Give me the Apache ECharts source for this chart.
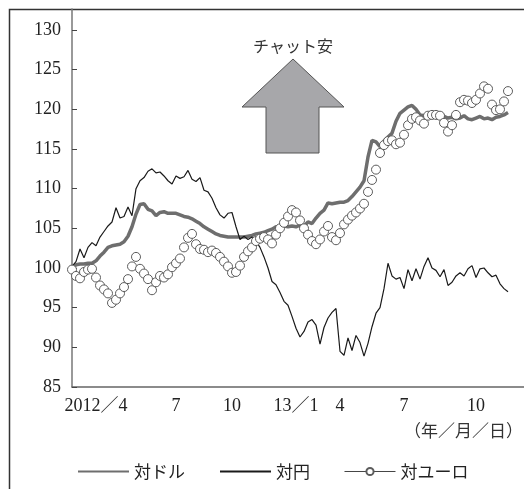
<!DOCTYPE html>
<html>
<head>
<meta charset="utf-8">
<script src="https://cdn.jsdelivr.net/npm/echarts@6/dist/echarts.min.js"></script>
<style>
  html, body { margin: 0; padding: 0; background: #fff; }
  #chart { width: 524px; height: 489px; }
</style>
</head>
<body>
<div id="chart"></div>
<script>
// Kyat exchange-rate index (start = 100), sampled at regular steps, Apr 2012 – late 2013
const usd = [
  100.0, 100.4, 100.5, 100.5, 100.6, 100.6, 100.9, 101.5, 102.0, 102.6,
  102.8, 102.9, 103.0, 103.3, 104.0, 105.2, 106.8, 108.0, 108.1, 107.4,
  107.2, 106.6, 107.0, 107.1, 106.9, 106.9, 106.9, 106.7, 106.5, 106.4,
  106.2, 105.9, 105.6, 105.2, 104.9, 104.6, 104.3, 104.1, 104.0, 103.9,
  103.9, 103.9, 103.9, 103.9, 104.0, 104.1, 104.3, 104.4, 104.5, 104.7,
  104.9, 105.2, 105.2, 105.3, 105.2, 105.3, 105.2, 105.4, 105.3, 105.8,
  105.6, 106.3, 106.9, 107.3, 108.2, 108.1, 108.2, 108.3, 108.3, 108.5,
  109.0, 109.6, 110.2, 111.0, 114.0, 116.1, 115.9, 115.3, 116.0, 116.5,
  117.0, 118.5, 119.5, 119.9, 120.3, 120.5, 120.0, 119.3, 119.2, 119.3,
  119.4, 119.2, 119.3, 119.1, 118.9, 119.0, 118.8, 118.9, 119.2, 118.8,
  118.7, 118.9, 119.1, 118.8, 118.9, 118.7, 119.0, 119.1, 119.3, 119.6
];
const jpy = [
  100.2, 100.8, 102.4, 101.3, 102.6, 103.2, 102.8, 103.9, 104.6, 105.3,
  105.8, 107.6, 106.3, 106.5, 107.7, 106.6, 110.0, 111.0, 111.4, 112.2,
  112.5, 112.0, 112.1, 111.6, 111.0, 110.6, 111.6, 111.3, 111.5, 112.3,
  111.2, 110.9, 111.4, 109.8, 109.6, 108.8, 107.6, 106.7, 106.3, 106.9,
  107.0, 105.2, 103.6, 104.0, 103.6, 103.9, 103.4, 102.6, 101.4, 100.0,
  98.3, 97.9, 96.9, 95.8, 95.3, 93.9, 92.4, 91.3, 92.0, 93.2,
  93.5, 92.8, 90.4, 92.5, 93.7, 94.4, 94.9, 89.5, 89.0, 91.2,
  89.6, 91.5, 90.6, 88.9, 90.5, 92.6, 94.3, 95.0, 97.4, 100.6,
  99.0, 98.6, 98.8, 97.4, 99.8, 98.4, 99.9, 98.6, 100.2, 101.3,
  100.0, 99.7, 98.9, 99.8, 97.8, 98.2, 99.0, 99.4, 99.0, 99.9,
  100.3, 98.8, 99.9, 100.0, 99.4, 98.9, 99.1, 98.0, 97.4, 97.0
];
const eur = [
  99.8, 99.0, 98.7, 99.5, 99.8, 99.9, 98.8, 97.8, 97.3, 96.8,
  95.6, 96.0, 96.8, 97.6, 98.6, 100.2, 101.4, 99.9, 99.3, 98.6,
  97.2, 98.2, 99.0, 98.8, 99.2, 100.1, 100.6, 101.2, 102.6, 103.8,
  104.3, 103.0, 102.4, 102.3, 102.0, 102.2, 101.9, 101.4, 100.8, 100.2,
  99.4, 99.5, 100.3, 101.4, 102.1, 102.6, 103.4, 103.7, 103.9, 103.6,
  103.1, 104.2, 105.0, 105.7, 106.5, 107.3, 107.0, 106.0, 105.0, 104.2,
  103.4, 103.0, 103.6, 104.6, 105.3, 103.9, 103.5, 104.4, 105.5, 106.1,
  106.6, 107.0, 107.5, 108.1, 109.6, 111.1, 112.4, 114.5, 115.5, 116.0,
  116.1, 115.6, 115.8, 116.8, 118.0, 118.8, 119.0, 118.6, 118.2, 119.2,
  119.3, 119.3, 119.2, 118.3, 117.2, 118.0, 119.3, 120.9, 121.2, 121.1,
  120.8, 121.2, 122.0, 122.9, 122.6, 120.6, 119.9, 120.0, 121.0, 122.3
];

// Series names
const names = ['対ドル', '対円', '対ユーロ'];

// Date labels under the time axis, keyed by sampling step
const tickText = { 6: '2012／4', 26: '7', 40: '10', 56: '13／1', 67: '4', 83: '7', 101: '10' };

// Sampling steps; the axis runs a few steps past the last observation
const steps = Array.from({ length: usd.length + 4 }, (_, i) => String(i));

const serif = "'Liberation Serif', 'Noto Sans CJK JP', serif";
const jp = "'Noto Sans CJK JP', sans-serif";

const chart = echarts.init(document.getElementById('chart'), null, { renderer: 'canvas' });

chart.setOption({
  animation: false,
  backgroundColor: '#fff',
  grid: { left: 72, right: 0, top: 9, bottom: 102, containLabel: false, outerBoundsMode: 'none' },
  xAxis: {
    type: 'category',
    data: steps,
    boundaryGap: false,
    axisLine: { lineStyle: { color: '#666', width: 1.5 } },
    axisTick: { show: false },
    axisLabel: {
      interval: (idx) => tickText[idx] !== undefined,
      formatter: (v, idx) => tickText[idx] || '',
      margin: 10,
      fontFamily: serif,
      fontSize: 18,
      color: '#222'
    },
    splitLine: { show: false }
  },
  yAxis: {
    type: 'value',
    min: 85,
    max: 132.65,
    interval: 5,
    axisLine: { show: true, lineStyle: { color: '#777', width: 1.5 } },
    axisTick: { show: true, inside: true, length: 5, lineStyle: { color: '#444', width: 1 } },
    axisLabel: {
      showMaxLabel: false,
      margin: 11,
      fontFamily: serif,
      fontSize: 18,
      color: '#222'
    },
    splitLine: { show: false }
  },
  legend: {
    left: 72,
    top: 458,
    itemWidth: 51,
    itemHeight: 9,
    itemGap: 34,
    textStyle: { fontFamily: jp, fontSize: 17, color: '#222' },
    data: [
      { name: names[0], itemStyle: { opacity: 0 } },
      { name: names[1], itemStyle: { opacity: 0 } },
      { name: names[2], lineStyle: { width: 1, color: '#444', opacity: 1 } }
    ]
  },
  series: [
    {
      name: names[0],
      type: 'line',
      data: usd,
      symbol: 'none',
      lineStyle: { color: '#6e6e6e', width: 3.5 },
      itemStyle: { color: '#6e6e6e' },
      z: 2
    },
    {
      name: names[1],
      type: 'line',
      data: jpy,
      symbol: 'none',
      lineStyle: { color: '#1a1a1a', width: 1.2 },
      itemStyle: { color: '#1a1a1a' },
      z: 3
    },
    {
      name: names[2],
      type: 'line',
      data: eur,
      symbol: 'circle',
      symbolSize: 9,
      showSymbol: true,
      showAllSymbol: true,
      lineStyle: { width: 0, opacity: 0 },
      itemStyle: { color: '#fff', borderColor: '#5c5c5c', borderWidth: 1 },
      z: 4
    }
  ],
  graphic: [
    {
      type: 'rect',
      z: 0,
      silent: true,
      shape: { x: 9.5, y: 9.5, width: 700, height: 700 },
      style: { fill: 'none', stroke: '#333', lineWidth: 1.5 }
    },
    {
      type: 'polygon',
      z: 1,
      silent: true,
      shape: {
        points: [[293, 59], [344, 107], [319, 107], [319, 153], [266, 153], [266, 107], [242, 107]]
      },
      style: { fill: '#a7a7aa', stroke: '#555', lineWidth: 1 }
    },
    {
      type: 'text',
      z: 5,
      silent: true,
      style: {
        x: 293, y: 46, text: 'チャット安',
        align: 'center', verticalAlign: 'middle',
        fontFamily: jp, fontSize: 16, fill: '#333'
      }
    },
    {
      type: 'text',
      z: 5,
      silent: true,
      style: {
        x: 523, y: 431, text: '（年／月／日）',
        align: 'right', verticalAlign: 'middle',
        fontFamily: jp, fontSize: 17, fill: '#333'
      }
    }
  ]
});
</script>
</body>
</html>
